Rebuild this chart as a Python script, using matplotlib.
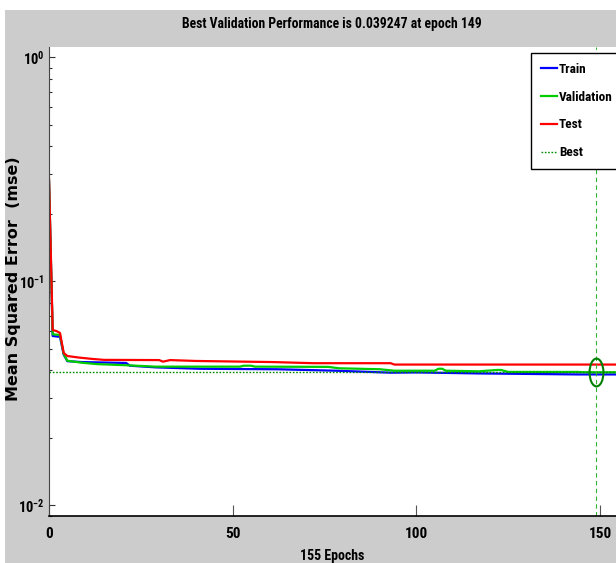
import numpy as np
import matplotlib
matplotlib.use("Agg")
import matplotlib.pyplot as plt
from matplotlib.lines import Line2D
from matplotlib.markers import MarkerStyle
from matplotlib.patches import Rectangle
from matplotlib.transforms import Affine2D
from matplotlib import font_manager

# Training record (epoch, mse)
train_epochs = [0, 1, 3, 4, 5, 9, 21, 22, 29, 41, 62, 78, 93, 100, 117, 144, 155]
train_mse = [0.280, 0.0570, 0.0565, 0.0470, 0.0440, 0.0436, 0.0432, 0.0420,
             0.0413, 0.0407, 0.0405, 0.0399, 0.0391, 0.0392, 0.0388, 0.0384, 0.0384]

val_epochs = [0, 1, 3, 4, 5, 9, 13, 21, 29, 52, 53, 55, 56, 76, 79, 90, 94, 105,
              106, 107, 108, 117, 122, 123, 125, 144, 145, 149, 155]
val_mse = [0.285, 0.0580, 0.0576, 0.0474, 0.0442, 0.0433, 0.0427, 0.0422, 0.0416,
           0.0416, 0.0420, 0.0420, 0.0416, 0.0415, 0.0409, 0.0405, 0.0399, 0.0399,
           0.0407, 0.0407, 0.0399, 0.03965, 0.0402, 0.0402, 0.0394, 0.0394,
           0.0393, 0.039247, 0.03927]

test_epochs = [0, 1, 2, 3, 4, 5, 8, 12, 15, 30, 31, 33, 40, 61, 72, 93, 94, 155]
test_mse = [0.289, 0.0606, 0.0600, 0.0588, 0.0479, 0.0464, 0.0457, 0.0450, 0.0446,
            0.0445, 0.0438, 0.0445, 0.0441, 0.0436, 0.0431, 0.0431, 0.0425, 0.0425]

best_epoch = 149
best_perf = 0.039247
n_epochs = 155

x_ticks = [0, 50, 100, 150]
y_ticks = [1e-2, 1e-1, 1e0]
y_ticklabels = [r"$\mathregular{10^{-2}}$", r"$\mathregular{10^{-1}}$", r"$\mathregular{10^{0}}$"]

# look for a narrow / condensed face, MATLAB's plot uses a narrow bold font
fam, stretch = "Liberation Sans", "normal"
fonts = font_manager.fontManager.ttflist
names = {f.name for f in fonts}
for want in ["Liberation Sans Narrow", "Arial Narrow", "Roboto Condensed",
             "Open Sans Condensed", "DejaVu Sans Condensed"]:
    if want in names:
        fam = want
        break
else:
    for f in fonts:
        if f.name in ("Liberation Sans", "Roboto", "DejaVu Sans", "Noto Sans") and \
                f.stretch in ("condensed", "semi-condensed") and f.weight in ("bold", 700):
            fam, stretch = f.name, f.stretch
            break

plt.rcParams["font.family"] = [fam, "DejaVu Sans"]
plt.rcParams["font.weight"] = "bold"
plt.rcParams["font.stretch"] = stretch

W, H = 616, 563
fig = plt.figure(figsize=(W / 100, H / 100), dpi=100, facecolor="white")
# grey panel behind everything
fig.patches.append(Rectangle((5 / W, 0), 1, (H - 9.5) / H, transform=fig.transFigure,
                             facecolor="#cccccc", edgecolor="none", zorder=-10))

ax = fig.add_axes([49 / W, (H - 515.7) / H, 569.5 / W, (515.7 - 47.3) / H])
ax.set_facecolor("white")

ax.plot(train_epochs, train_mse, color=(0, 0, 1), lw=1.6, label="Train")
ax.plot(val_epochs, val_mse, color=(0, 0.8, 0), lw=1.6, label="Validation")
ax.plot(test_epochs, test_mse, color=(1, 0, 0), lw=1.6, label="Test")
ax.axhline(best_perf, color=(0, 0.55, 0), lw=1, ls=(0, (1.2, 1.2)), label="Best")
ax.axvline(best_epoch, color=(0.2, 0.7, 0.2), lw=0.8, ls=(0, (4, 3)))
ell = MarkerStyle("o", transform=Affine2D().scale(0.5, 1.0))
ax.plot([best_epoch], [best_perf], marker=ell, ms=20, mfc="none", mec=(0, 0.5, 0), mew=1.5)

ax.set_yscale("log")
ax.set_xlim(0, n_epochs)
ax.set_ylim(0.00899, 1.108)
ax.set_xticks(x_ticks)
ax.set_xticklabels([str(t) for t in x_ticks], fontsize=11)
ax.set_yticks(y_ticks)
ax.set_yticklabels(y_ticklabels, fontsize=10.5)
ax.tick_params(axis="x", direction="in", length=8, width=0.8, color="#555555", pad=8)
ax.tick_params(axis="y", which="major", direction="in", length=4, width=0.8, color="#333333", pad=3)
ax.tick_params(axis="y", which="minor", direction="in", length=2.5, width=0.8, color="#333333")
for s in ["top", "right"]:
    ax.spines[s].set_visible(False)
ax.spines["left"].set_color("#444444")
ax.spines["bottom"].set_color("black")
ax.spines["bottom"].set_linewidth(1.2)

handles = [Line2D([], [], color=(0, 0, 1), lw=1.6),
           Line2D([], [], color=(0, 0.8, 0), lw=1.6),
           Line2D([], [], color=(1, 0, 0), lw=1.6),
           Line2D([], [], color=(0, 0.55, 0), lw=1, ls=(0, (1.2, 1.2)))]
leg = ax.legend(handles, ["Train", "Validation", "Test", "Best"], loc="upper left",
                bbox_to_anchor=(531 / W, 1 - 53.3 / H), bbox_transform=fig.transFigure,
                borderaxespad=0, fancybox=False, framealpha=1, edgecolor="black",
                prop={"size": 9.5}, handlelength=1.25, handletextpad=0.15,
                labelspacing=1.12, borderpad=0.72)
leg.get_frame().set_linewidth(1.0)

fig.text(332 / W, 1 - 24 / H, "Best Validation Performance is 0.039247 at epoch 149",
         ha="center", va="center", fontsize=9.8)
fig.text(332 / W, 1 - 556 / H, "155 Epochs", ha="center", va="center", fontsize=10)
fig.text(14 / W, 1 - 279 / H, "Mean Squared Error  (mse)", rotation=90, ha="center",
         va="center", fontfamily="DejaVu Sans", fontweight="bold", fontstretch="normal",
         fontsize=11.5)

fig.savefig("out.png", dpi=100)
